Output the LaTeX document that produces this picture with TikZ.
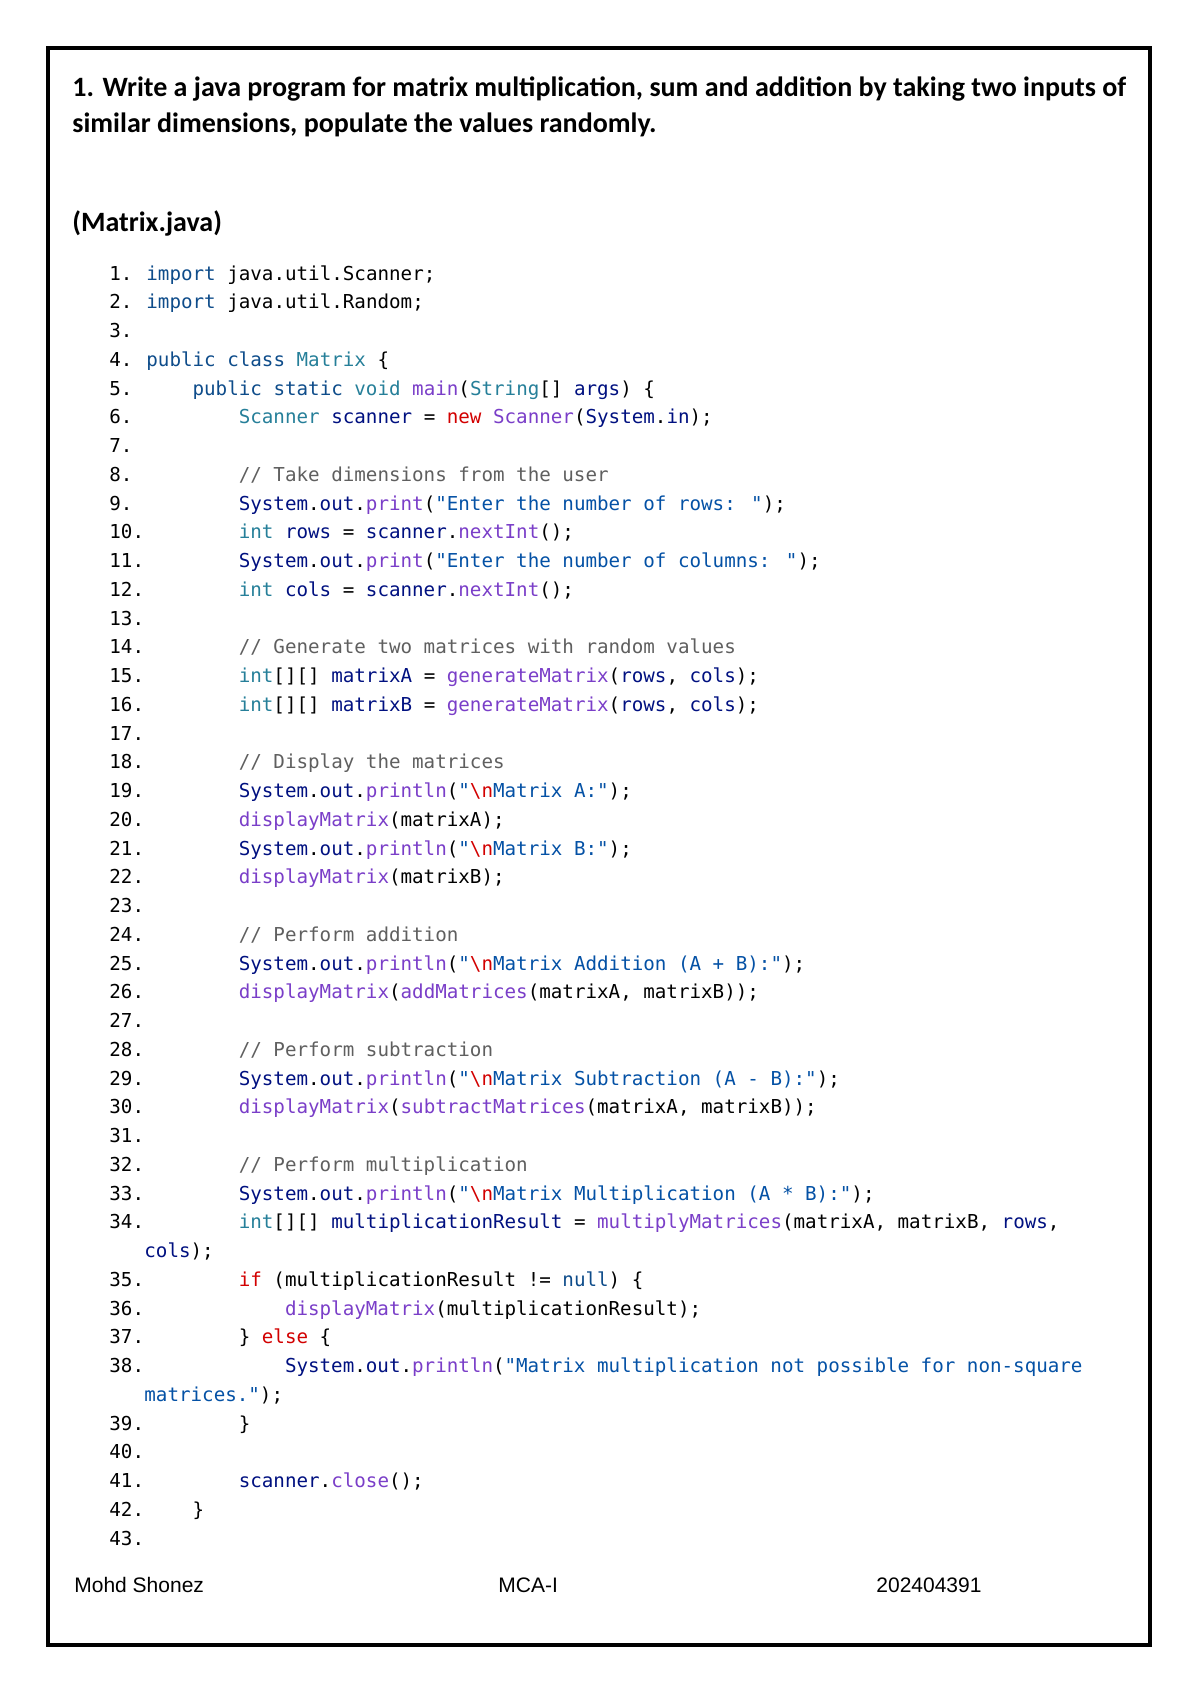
\documentclass[tikz,border=0pt]{standalone}
\usepackage{fontspec}
\newfontfamily\codefont{DejaVu Sans Mono}
\newfontfamily\titlefont{Carlito}
\newfontfamily\footfont{Liberation Sans}
\definecolor{kw}{HTML}{0E4C8A}
\definecolor{ty}{HTML}{267F99}
\definecolor{fn}{HTML}{7A3EC8}
\definecolor{vr}{HTML}{001080}
\definecolor{st}{HTML}{0451A5}
\definecolor{rd}{HTML}{D20000}
\definecolor{cm}{HTML}{5F5F5F}
\newcommand\K[1]{\textcolor{kw}{#1}}
\newcommand\T[1]{\textcolor{ty}{#1}}
\newcommand\F[1]{\textcolor{fn}{#1}}
\newcommand\V[1]{\textcolor{vr}{#1}}
\newcommand\Sg[1]{\textcolor{st}{#1}}
\newcommand\R[1]{\textcolor{rd}{#1}}
\newcommand\C[1]{\textcolor{cm}{#1}}
\newcommand\NL{\R{\textbackslash n}}
\newcommand\SOP{\V{System}.\V{out}.}
\tikzset{code/.style={anchor=base west,inner sep=0pt,font=\codefont\fontsize{9.6}{11}\selectfont},
  ttl/.style={anchor=base west,inner sep=0pt,font=\titlefont\bfseries\fontsize{14}{16}\selectfont},
  foot/.style={anchor=base west,inner sep=0pt,font=\footfont\fontsize{10.5}{12}\selectfont}}
\newcommand\cl[4]{%
  \node[code] (n#1) at (109,{280+#1*28.75}) {#2};
  \node[code] (c#1) at ({146+#3*11.55},{280+#1*28.75}) {#4};}
\newcommand\wl[2]{%
  \node[code] (c#1) at (144,{280+#1*28.75}) {#2};}
\begin{document}
\begin{tikzpicture}[x=0.5pt,y=-0.5pt]
\useasboundingbox (0,0) rectangle (1200,1696);
\draw[line width=2pt] (48,48) rectangle (1150,1645);
\node[ttl] (t1) at (72,97) {1. Write a java program for matrix multiplication, sum and addition by taking two inputs of};
\node[ttl] (t2) at (72,133) {similar dimensions, populate the values randomly.};
\node[ttl] (t3) at (72,232) {(Matrix.java)};
\cl{0}{1.}{0}{\K{import} java.util.Scanner;}
\cl{1}{2.}{0}{\K{import} java.util.Random;}
\cl{2}{3.}{0}{}
\cl{3}{4.}{0}{\K{public} \K{class} \T{Matrix} \{}
\cl{4}{5.}{4}{\K{public} \K{static} \T{void} \F{main}(\T{String}[] \V{args}) \{}
\cl{5}{6.}{8}{\T{Scanner} \V{scanner} = \R{new} \F{Scanner}(\V{System}.\V{in});}
\cl{6}{7.}{0}{}
\cl{7}{8.}{8}{\C{// Take dimensions from the user}}
\cl{8}{9.}{8}{\SOP\F{print}(\Sg{"Enter the number of rows: "});}
\cl{9}{10.}{8}{\T{int} \V{rows} = \V{scanner}.\F{nextInt}();}
\cl{10}{11.}{8}{\SOP\F{print}(\Sg{"Enter the number of columns: "});}
\cl{11}{12.}{8}{\T{int} \V{cols} = \V{scanner}.\F{nextInt}();}
\cl{12}{13.}{0}{}
\cl{13}{14.}{8}{\C{// Generate two matrices with random values}}
\cl{14}{15.}{8}{\T{int}[][] \V{matrixA} = \F{generateMatrix}(\V{rows}, \V{cols});}
\cl{15}{16.}{8}{\T{int}[][] \V{matrixB} = \F{generateMatrix}(\V{rows}, \V{cols});}
\cl{16}{17.}{0}{}
\cl{17}{18.}{8}{\C{// Display the matrices}}
\cl{18}{19.}{8}{\SOP\F{println}(\Sg{"}\NL\Sg{Matrix A:"});}
\cl{19}{20.}{8}{\F{displayMatrix}(matrixA);}
\cl{20}{21.}{8}{\SOP\F{println}(\Sg{"}\NL\Sg{Matrix B:"});}
\cl{21}{22.}{8}{\F{displayMatrix}(matrixB);}
\cl{22}{23.}{0}{}
\cl{23}{24.}{8}{\C{// Perform addition}}
\cl{24}{25.}{8}{\SOP\F{println}(\Sg{"}\NL\Sg{Matrix Addition (A + B):"});}
\cl{25}{26.}{8}{\F{displayMatrix}(\F{addMatrices}(matrixA, matrixB));}
\cl{26}{27.}{0}{}
\cl{27}{28.}{8}{\C{// Perform subtraction}}
\cl{28}{29.}{8}{\SOP\F{println}(\Sg{"}\NL\Sg{Matrix Subtraction (A - B):"});}
\cl{29}{30.}{8}{\F{displayMatrix}(\F{subtractMatrices}(matrixA, matrixB));}
\cl{30}{31.}{0}{}
\cl{31}{32.}{8}{\C{// Perform multiplication}}
\cl{32}{33.}{8}{\SOP\F{println}(\Sg{"}\NL\Sg{Matrix Multiplication (A * B):"});}
\cl{33}{34.}{8}{\T{int}[][] \V{multiplicationResult} = \F{multiplyMatrices}(matrixA, matrixB, \V{rows},}
\wl{34}{\V{cols});}
\cl{35}{35.}{8}{\R{if} (multiplicationResult != \K{null}) \{}
\cl{36}{36.}{12}{\F{displayMatrix}(multiplicationResult);}
\cl{37}{37.}{8}{\} \R{else} \{}
\cl{38}{38.}{12}{\SOP\F{println}(\Sg{"Matrix multiplication not possible for non-square}}
\wl{39}{\Sg{matrices."});}
\cl{40}{39.}{8}{\}}
\cl{41}{40.}{0}{}
\cl{42}{41.}{8}{\V{scanner}.\F{close}();}
\cl{43}{42.}{4}{\}}
\cl{44}{43.}{0}{}
\node[foot] (f1) at (74,1592) {Mohd Shonez};
\node[foot] (f2) at (498,1592) {MCA-I};
\node[foot] (f3) at (876,1592) {202404391};
\end{tikzpicture}
\end{document}
